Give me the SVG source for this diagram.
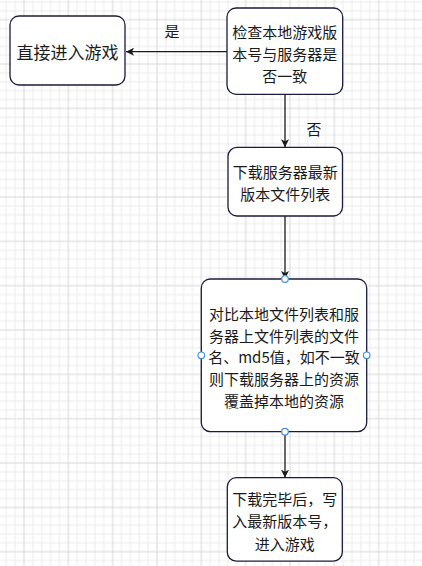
<svg xmlns="http://www.w3.org/2000/svg" width="422" height="566" viewBox="0 0 422 566">
<defs>
<pattern id="grid" patternUnits="userSpaceOnUse" x="24" y="19.7" width="44.333" height="44.333">
<rect x="0" y="0" width="44.333" height="44.333" fill="#ffffff"/>
<g fill="#ececec">
<rect x="8.367" y="0" width="1" height="44.333"/>
<rect x="17.233" y="0" width="1" height="44.333"/>
<rect x="26.1" y="0" width="1" height="44.333"/>
<rect x="34.967" y="0" width="1" height="44.333"/>
<rect x="0" y="8.367" width="44.333" height="1"/>
<rect x="0" y="17.233" width="44.333" height="1"/>
<rect x="0" y="26.1" width="44.333" height="1"/>
<rect x="0" y="34.967" width="44.333" height="1"/>
</g>
<g fill="#d9d9d9">
<rect x="-0.5" y="0" width="1" height="44.333"/>
<rect x="0" y="-0.5" width="44.333" height="1"/>
<rect x="43.833" y="0" width="1" height="44.333"/>
<rect x="0" y="43.833" width="44.333" height="1"/>
</g>
</pattern>
<marker id="arr" viewBox="0 0 10 10" refX="10" refY="5" markerWidth="8" markerHeight="8" markerUnits="userSpaceOnUse" orient="auto">
<path d="M0,0 L10,5 L0,10 L2.5,5 Z" fill="#1a1a1a"/>
</marker>
<style>
.box{fill:#ffffff;stroke:#1b1b3d;stroke-width:1.3}
.t{font-family:"Noto Sans CJK SC","Liberation Sans",sans-serif;font-size:15px;fill:#1a1a1a;text-anchor:middle;dominant-baseline:central}
.edge{stroke:#1a1a1a;stroke-width:1.3;fill:none}
.pt{fill:#ffffff;stroke:#4a90e2;stroke-width:1.2}
</style>
</defs>
<rect x="0" y="0" width="422" height="566" fill="url(#grid)"/>
<g id="connectors">
<line class="edge" x1="227" y1="51.7" x2="126" y2="51.7" marker-end="url(#arr)"/>
<text class="t" x="172" y="30">是</text>
<line class="edge" x1="285" y1="94.3" x2="285" y2="147.3" marker-end="url(#arr)"/>
<text class="t" x="314" y="128">否</text>
<line class="edge" x1="285" y1="216" x2="285" y2="279" marker-end="url(#arr)"/>
<line class="edge" x1="285" y1="431.7" x2="285" y2="477.7" marker-end="url(#arr)"/>
</g>
<g id="node-direct">
<rect class="box" x="10" y="16" width="115" height="69" rx="9" ry="9"/>
<text class="t" x="67.5" y="51" style="font-size:17px">直接进入游戏</text>
</g>
<g id="node-check">
<rect class="box" x="227" y="8" width="115.7" height="86.3" rx="9" ry="9"/>
<text class="t" x="284.8" y="31.7">检查本地游戏版</text>
<text class="t" x="284.8" y="53.3">本号与服务器是</text>
<text class="t" x="284.8" y="75">否一致</text>
</g>
<g id="node-download-list">
<rect class="box" x="228" y="147.3" width="114.5" height="68.7" rx="9" ry="9"/>
<text class="t" x="285.2" y="171.7">下载服务器最新</text>
<text class="t" x="285.2" y="193.3">版本文件列表</text>
</g>
<g id="node-compare">
<rect class="box" x="201.3" y="279" width="165.4" height="152.7" rx="9" ry="9"/>
<text class="t" x="284" y="313.3">对比本地文件列表和服</text>
<text class="t" x="284" y="335">务器上文件列表的文件</text>
<text class="t" x="284" y="356.7">名、md5值，如不一致</text>
<text class="t" x="284" y="378.3">则下载服务器上的资源</text>
<text class="t" x="284" y="400">覆盖掉本地的资源</text>
<circle class="pt" cx="285" cy="279" r="3.3"/>
<circle class="pt" cx="201.3" cy="355.3" r="3.3"/>
<circle class="pt" cx="366.7" cy="355.3" r="3.3"/>
<circle class="pt" cx="285" cy="431.7" r="3.3"/>
</g>
<g id="node-finish">
<rect class="box" x="227.3" y="477.7" width="115" height="83.5" rx="9" ry="9"/>
<text class="t" x="284.8" y="498.3">下载完毕后，写</text>
<text class="t" x="284.8" y="520">入最新版本号，</text>
<text class="t" x="284.8" y="543.3">进入游戏</text>
</g>
</svg>
